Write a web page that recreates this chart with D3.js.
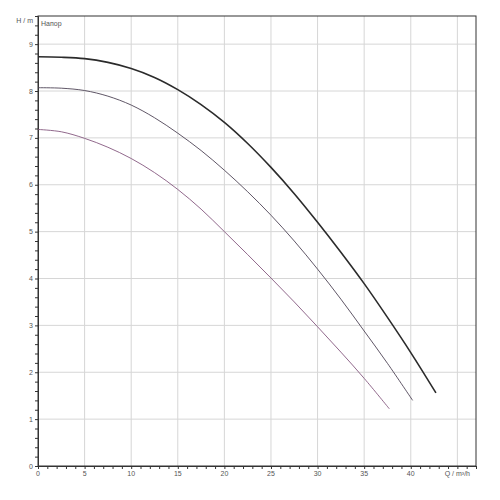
<!DOCTYPE html>
<html><head><meta charset="utf-8">
<script src="https://cdn.jsdelivr.net/npm/d3@7"></script>
<style>body{margin:0;background:#fff}</style>
</head><body>
<svg id="c" width="500" height="500"></svg>
<script>
const xTicks = [0,5,10,15,20,25,30,35,40];
const yTicks = [0,1,2,3,4,5,6,7,8,9];
const xLabel = "Q / m³/h";
const yLabel = "H / m";
const title = "Напор";

const q1 = [0,2.5,5,7.5,10,12.5,15,17.5,20,22.5,25,27.5,30,32.5,35,37.5,40,42.7];
const h1 = [8.73,8.72,8.69,8.61,8.48,8.29,8.03,7.71,7.33,6.88,6.37,5.81,5.20,4.56,3.89,3.17,2.42,1.56];
const q2 = [0,2.5,5,7.5,10,12.5,15,17.5,20,22.5,25,27.5,30,32.5,35,37.5,40.2];
const h2 = [8.07,8.06,8.01,7.89,7.70,7.43,7.10,6.73,6.31,5.85,5.35,4.80,4.20,3.56,2.88,2.19,1.40];
const q3 = [0,2.5,5,7.5,10,12.5,15,17.5,20,22.5,25,27.5,30,32.5,35,37.7];
const h3 = [7.18,7.13,6.99,6.80,6.56,6.26,5.90,5.48,5.00,4.51,4.01,3.50,2.97,2.43,1.87,1.22];

const series = [
  {q:q1,h:h1,color:"#2b2b2b",w:1.6},
  {q:q2,h:h2,color:"#4e4456",w:0.9},
  {q:q3,h:h3,color:"#84587f",w:0.9}
];

const svg = d3.select("#c");
const x = d3.scaleLinear().domain([0,47]).range([38,476]);
const y = d3.scaleLinear().domain([0,9.6]).range([466,16]);

// grid
svg.append("g").selectAll("line").data(d3.range(5,46,5)).join("line")
  .attr("x1",d=>x(d)).attr("x2",d=>x(d)).attr("y1",y(0)).attr("y2",y(9.6))
  .attr("stroke","#d6d6d6").attr("stroke-width",1);
svg.append("g").selectAll("line").data(d3.range(1,10)).join("line")
  .attr("y1",d=>y(d)).attr("y2",d=>y(d)).attr("x1",x(0)).attr("x2",x(47))
  .attr("stroke","#d6d6d6").attr("stroke-width",1);

// frame
svg.append("rect").attr("x",x(0)).attr("y",y(9.6)).attr("width",x(47)-x(0)).attr("height",y(0)-y(9.6))
  .attr("fill","none").attr("stroke","#333").attr("stroke-width",1);

// axes
const xAxis = d3.axisBottom(x).tickValues(d3.range(0,48,1)).tickSize(3).tickFormat("");
const gx = svg.append("g").attr("transform",`translate(0,${y(0)})`).call(xAxis);
gx.select(".domain").attr("stroke","#333");
gx.selectAll(".tick line").attr("stroke","#333");
const yAxis = d3.axisLeft(y).tickValues(d3.range(0,49).map(i=>i*0.2)).tickSize(3).tickFormat("");
const gy = svg.append("g").attr("transform",`translate(${x(0)},0)`).call(yAxis);
gy.select(".domain").attr("stroke","#333");
gy.selectAll(".tick line").attr("stroke","#333");

const font = "Liberation Sans, Arial, sans-serif";
svg.append("g").selectAll("text").data(xTicks).join("text")
  .attr("x",d=>x(d)).attr("y",y(0)+10).attr("text-anchor","middle")
  .attr("font-family",font).attr("font-size",7).attr("fill","#555").text(d=>d);
svg.append("text").attr("x",x(45)).attr("y",y(0)+10).attr("text-anchor","middle")
  .attr("font-family",font).attr("font-size",7).attr("fill","#555").text(xLabel);
svg.append("g").selectAll("text").data(yTicks).join("text")
  .attr("x",x(0)-5).attr("y",d=>y(d)+2.5).attr("text-anchor","end")
  .attr("font-family",font).attr("font-size",7).attr("fill","#555").text(d=>d);
svg.append("text").attr("x",x(0)-5).attr("y",y(9.5)+2.5).attr("text-anchor","end")
  .attr("font-family",font).attr("font-size",7).attr("fill","#555").text(yLabel);
svg.append("text").attr("x",x(0)+3).attr("y",y(9.6)+9.5)
  .attr("font-family",font).attr("font-size",7).attr("fill","#555").text(title);

const line = d3.line().curve(d3.curveCatmullRom.alpha(0.5));
series.forEach(s=>{
  svg.append("path").datum(s.q.map((q,i)=>[x(q),y(s.h[i])]))
    .attr("d",line).attr("fill","none").attr("stroke",s.color).attr("stroke-width",s.w);
});
</script>
</body></html>
